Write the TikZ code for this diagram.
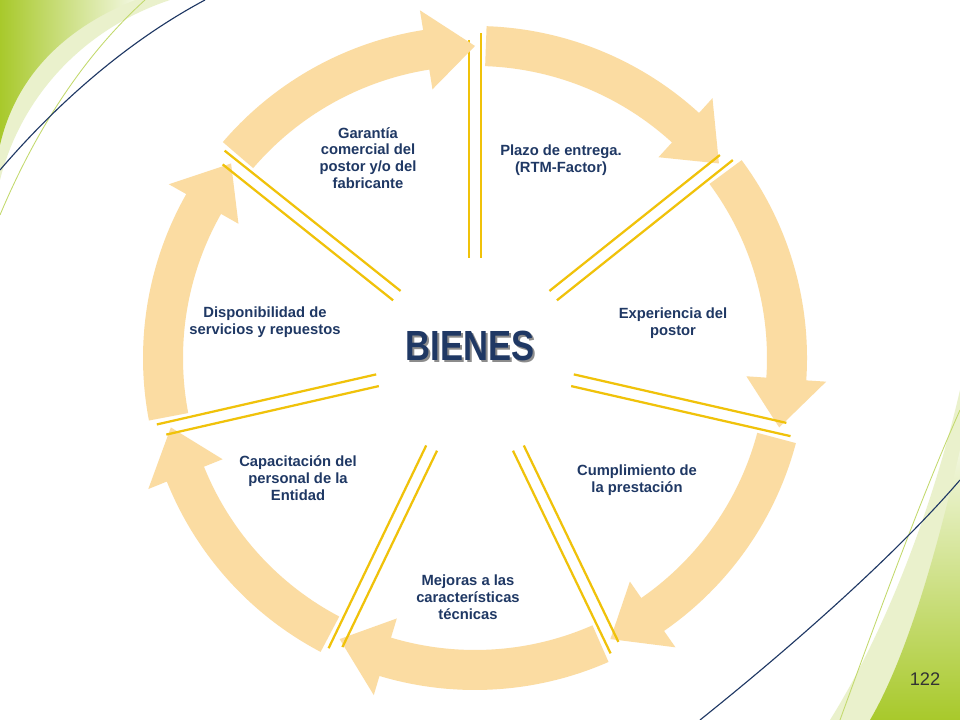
\documentclass[tikz,border=0pt]{standalone}
\usepackage{fontspec}
\setmainfont{Liberation Sans}
\definecolor{ringfill}{HTML}{FBDCA2}
\definecolor{spoke}{HTML}{F0C20A}
\definecolor{navytext}{HTML}{1F3864}
\definecolor{leafgreen}{HTML}{A8C92B}
\tikzset{
  seglabel/.style={align=center, font=\bfseries\fontsize{10.5}{12}\selectfont, text=navytext, inner sep=1pt},
  spokeline/.style={spoke, line width=1.6pt},
}
\begin{document}
\begin{tikzpicture}[x=0.025cm, y=0.025cm]
  % Frame
  \useasboundingbox (0,0) rectangle (960,720);
  \fill[white] (0,0) rectangle (960,720);

  % Corner decorations
  \fill[leafgreen!40, opacity=0.6] (0,720) -- (170,720) .. controls (80,690) and (20,620) .. (0,540) -- cycle;
  \shade[left color=leafgreen, right color=leafgreen!15] (0,720) -- (135,720) .. controls (60,690) and (15,640) .. (0,575) -- cycle;
  \draw[leafgreen!70, line width=0.6pt] (0,505) .. controls (40,600) and (90,670) .. (145,720);
  \draw[navytext, line width=0.8pt] (0,550) .. controls (60,620) and (130,680) .. (205,720);
  \fill[leafgreen!40, opacity=0.6] (960,330) .. controls (930,200) and (880,80) .. (830,0) -- (960,0) -- cycle;
  \shade[top color=leafgreen!15, bottom color=leafgreen] (960,270) .. controls (935,160) and (905,60) .. (870,0) -- (960,0) -- cycle;
  \draw[leafgreen!70, line width=0.6pt] (840,0) .. controls (880,110) and (920,220) .. (960,310);
  \draw[navytext, line width=0.8pt] (700,0) .. controls (800,80) and (900,170) .. (960,240);

  % Ring of arrows and spokes
  \begin{scope}[shift={(475,362)}]
    \foreach \k in {0,...,6}{
      \pgfmathsetmacro\s{90-\k*360/7-2}
      \pgfmathsetmacro\e{90-(\k+1)*360/7}
      \pgfmathsetmacro\hb{\e+9}
      \fill[ringfill] (\s:332) arc[start angle=\s, end angle=\hb, radius=8.3cm]
        -- (\hb:352) -- (\e:312) -- (\hb:272) -- (\hb:292)
        arc[start angle=\hb, end angle=\s, radius=7.3cm] -- cycle;
      \pgfmathsetmacro\b{90-\k*360/7}
      \draw[spokeline] [shift={(\b-90:6)}] (\b:100) -- (\b:325);
      \draw[spokeline] [shift={(\b+90:6)}] (\b:100) -- (\b:318);
    }
  \end{scope}

  % Labels
  \node[seglabel] (garantia) at (368,562) {Garantía\\comercial del\\postor y/o del\\fabricante};
  \node[seglabel] (plazo) at (561,560) {Plazo de entrega.\\(RTM-Factor)};
  \node[seglabel] (experiencia) at (673,397) {Experiencia del\\postor};
  \node[seglabel] (cumplimiento) at (637,240) {Cumplimiento de\\la prestación};
  \node[seglabel] (mejoras) at (468,123) {Mejoras a las\\características\\técnicas};
  \node[seglabel] (capacitacion) at (298,242) {Capacitación del\\personal de la\\Entidad};
  \node[seglabel] (disponibilidad) at (265,398) {Disponibilidad de\\servicios y repuestos};

  % Center
  \node[text=black!45, font=\bfseries\fontsize{30}{32}\selectfont, xscale=0.82] at (472,372) {BIENES};
  \node[text=navytext, font=\bfseries\fontsize{30}{32}\selectfont, xscale=0.82] (bienes) at (470,374) {BIENES};

  % Page number
  \node[font=\fontsize{13}{15}\selectfont, text=black!80] (pagenum) at (925,41) {122};
\end{tikzpicture}
\end{document}
